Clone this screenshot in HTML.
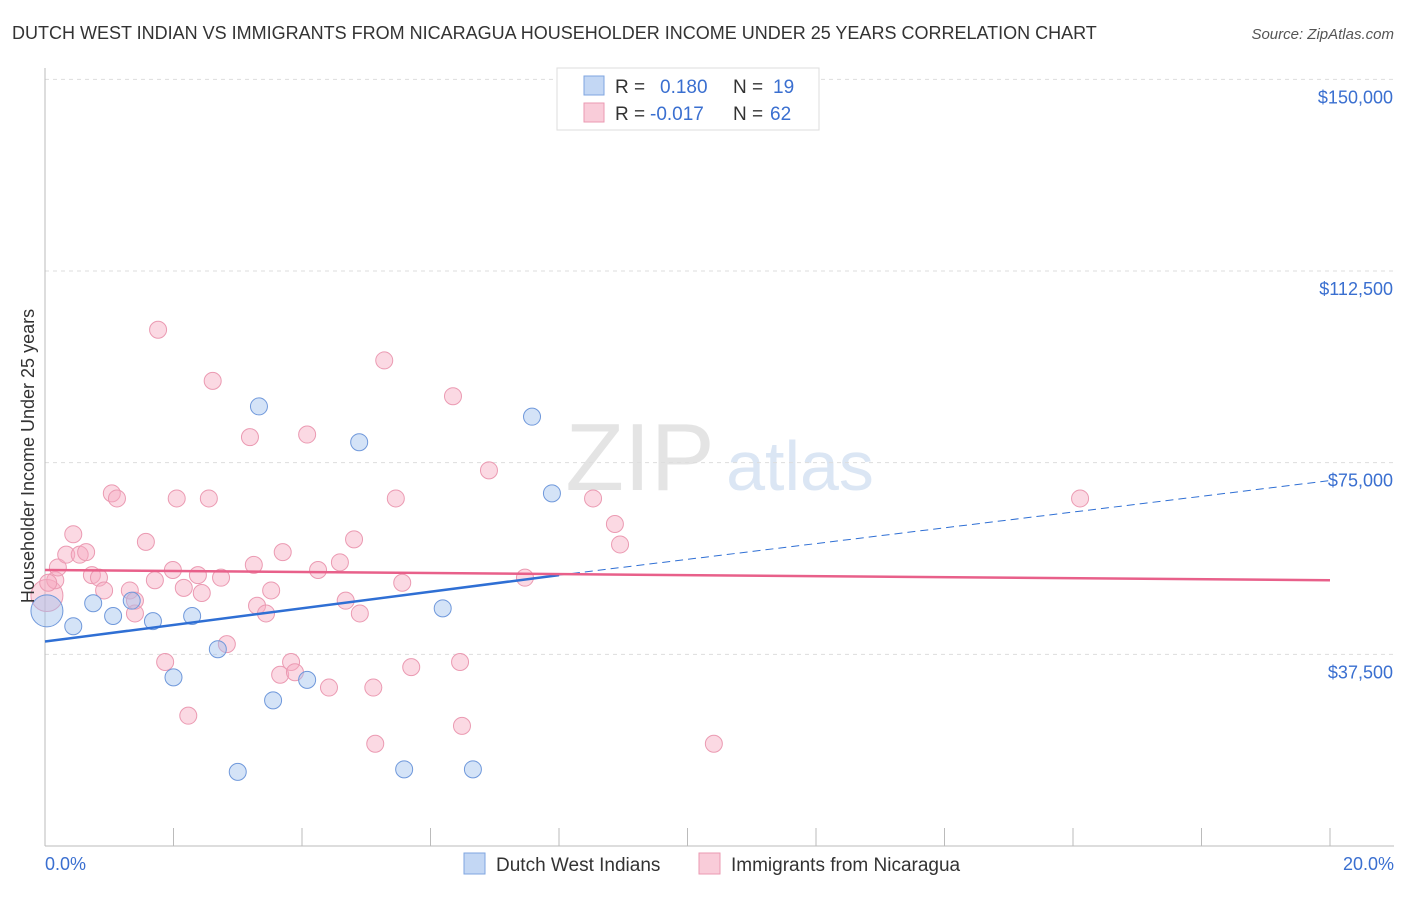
<!DOCTYPE html>
<html><head><meta charset="utf-8"><style>
body{margin:0;background:#fff;font-family:"Liberation Sans",sans-serif;}
svg text{font-family:"Liberation Sans",sans-serif;}
</style></head><body>
<svg id="chart" width="1406" height="892">
<text x="12" y="39" font-size="18" fill="#333">DUTCH WEST INDIAN VS IMMIGRANTS FROM NICARAGUA HOUSEHOLDER INCOME UNDER 25 YEARS CORRELATION CHART</text>
<text x="1394" y="39" font-size="15" fill="#555" font-style="italic" text-anchor="end">Source: ZipAtlas.com</text>
<text x="640" y="490" font-size="96" fill="#e4e4e4" font-family="Liberation Serif" text-anchor="middle">ZIP</text>
<text x="800" y="490" font-size="70" fill="#dbe6f4" text-anchor="middle">atlas</text>
<g id="grid"></g>
<line x1="45" y1="68" x2="45" y2="846" stroke="#bbb"/>
<line x1="45" y1="846" x2="1394" y2="846" stroke="#bbb"/>
<g id="ticks"></g>
<g id="points"></g>
<g id="lines"></g>
<text transform="translate(34,456) rotate(-90)" font-size="18" fill="#333" text-anchor="middle">Householder Income Under 25 years</text>
<text x="45" y="870" font-size="18" fill="#3a6fd0">0.0%</text>
<text x="1394" y="870" font-size="18" fill="#3a6fd0" text-anchor="end">20.0%</text>
<g>
<rect x="557" y="68" width="262" height="62" fill="#fff" stroke="#ddd"/>
<rect x="584" y="76" width="20" height="19" fill="#c3d7f4" stroke="#7fa6e0"/>
<rect x="584" y="103" width="20" height="19" fill="#f9ccd9" stroke="#eb9ab2"/>
<text x="615" y="93" font-size="19" fill="#333">R =</text><text x="660" y="93" font-size="19" fill="#3a6fd0">0.180</text>
<text x="733" y="93" font-size="19" fill="#333">N =</text><text x="773" y="93" font-size="19" fill="#3a6fd0">19</text>
<text x="615" y="120" font-size="19" fill="#333">R =</text><text x="650" y="120" font-size="19" fill="#3a6fd0">-0.017</text>
<text x="733" y="120" font-size="19" fill="#333">N =</text><text x="770" y="120" font-size="19" fill="#3a6fd0">62</text>
</g>
<g>
<rect x="464" y="853" width="21" height="21" fill="#c3d7f4" stroke="#7fa6e0"/>
<text x="496" y="871" font-size="19" fill="#333">Dutch West Indians</text>
<rect x="699" y="853" width="21" height="21" fill="#f9ccd9" stroke="#eb9ab2"/>
<text x="731" y="871" font-size="19" fill="#333">Immigrants from Nicaragua</text>
</g>
</svg>
<script>
const yTicks=[150000,112500,75000,37500];
const yTickLabels=["$150,000","$112,500","$75,000","$37,500"];
const xTicks=[0,2,4,6,8,10,12,14,16,18,20];
const blueX=[0.03,0.44,0.75,1.06,1.35,1.68,2.0,2.29,2.69,3.0,3.33,3.55,4.08,4.89,5.59,6.19,6.66,7.58,7.89];
const blueY=[46000,43000,47500,45000,48000,44000,33000,45000,38500,14500,86000,28500,32500,79000,15000,46500,15000,84000,69000];
const pinkX=[0.03,0.16,0.2,0.33,0.44,0.54,0.64,0.73,0.84,0.92,1.04,1.12,1.32,1.4,1.57,1.71,1.76,1.87,1.99,2.05,2.16,2.23,2.38,2.44,2.55,2.61,2.74,2.83,3.19,3.25,3.3,3.44,3.52,3.66,3.7,3.83,3.89,4.08,4.25,4.42,4.59,4.68,4.81,4.9,5.11,5.14,5.28,5.46,5.56,5.7,6.35,6.46,6.49,6.91,7.47,8.53,8.87,8.95,10.41,16.11,0.05,1.4];
const pinkY=[49000,52000,54500,57000,61000,57000,57500,53000,52500,50000,69000,68000,50000,45500,59500,52000,101000,36000,54000,68000,50500,25500,53000,49500,68000,91000,52500,39500,80000,55000,47000,45500,50000,33500,57500,36000,34000,80500,54000,31000,55500,48000,60000,45500,31000,20000,95000,68000,51500,35000,88000,36000,23500,73500,52500,68000,63000,59000,20000,68000,51500,48000];
const trendBlue=[0,40000,8,53000,20,71500];
const trendPink=[0,54000,20,52000];
const X=v=>45+v/20*1285, Y=v=>846-v/37500*191.67;
const NS="http://www.w3.org/2000/svg";
function mk(t,a,p){const e=document.createElementNS(NS,t);for(const k in a)e.setAttribute(k,a[k]);document.getElementById(p).appendChild(e);return e;}
yTicks.forEach((v,i)=>{
 const l=mk('line',{x1:45,x2:1394,y1:Y(v),y2:Y(v),stroke:'#ddd','stroke-dasharray':'4,4'},'grid');
 
 
 const t=mk('text',{x:1393,y:Y(v)+24,'font-size':18,fill:'#3a6fd0','text-anchor':'end'},'ticks');
 t.textContent=yTickLabels[i];
 
 
});
xTicks.forEach(v=>{
 const l=mk('line',{x1:X(v),x2:X(v),y1:828,y2:846,stroke:'#bbb'},'ticks');
 
 
});
pinkX.forEach((v,i)=>{
 const r=(i===0)?16:8.5;
 const c=mk('circle',{cx:X(v),cy:Y(pinkY[i]),r:r,fill:'rgba(246,170,193,0.45)',stroke:'#eb9ab2','stroke-width':1},'points');
 
 
});
blueX.forEach((v,i)=>{
 const r=(i===0)?16:8.5;
 const c=mk('circle',{cx:X(v),cy:Y(blueY[i]),r:r,fill:'rgba(160,193,238,0.45)',stroke:'#6f98db','stroke-width':1},'points');
 
 
});
const bs=(trendBlue[3]-trendBlue[1])/(trendBlue[2]-trendBlue[0]);
const bl=mk('line',{x1:X(trendBlue[0]),y1:Y(trendBlue[1]),x2:X(trendBlue[2]),y2:Y(trendBlue[3]),stroke:'#2f6fd4','stroke-width':2.5},'lines');


const bd=mk('line',{x1:X(trendBlue[2]),y1:Y(trendBlue[3]),x2:X(trendBlue[4]),y2:Y(trendBlue[5]),stroke:'#2f6fd4','stroke-width':1,'stroke-dasharray':'8,5'},'lines');


const pl=mk('line',{x1:X(trendPink[0]),y1:Y(trendPink[1]),x2:X(trendPink[2]),y2:Y(trendPink[3]),stroke:'#e8608a','stroke-width':2.5},'lines');


</script>
</body></html>
